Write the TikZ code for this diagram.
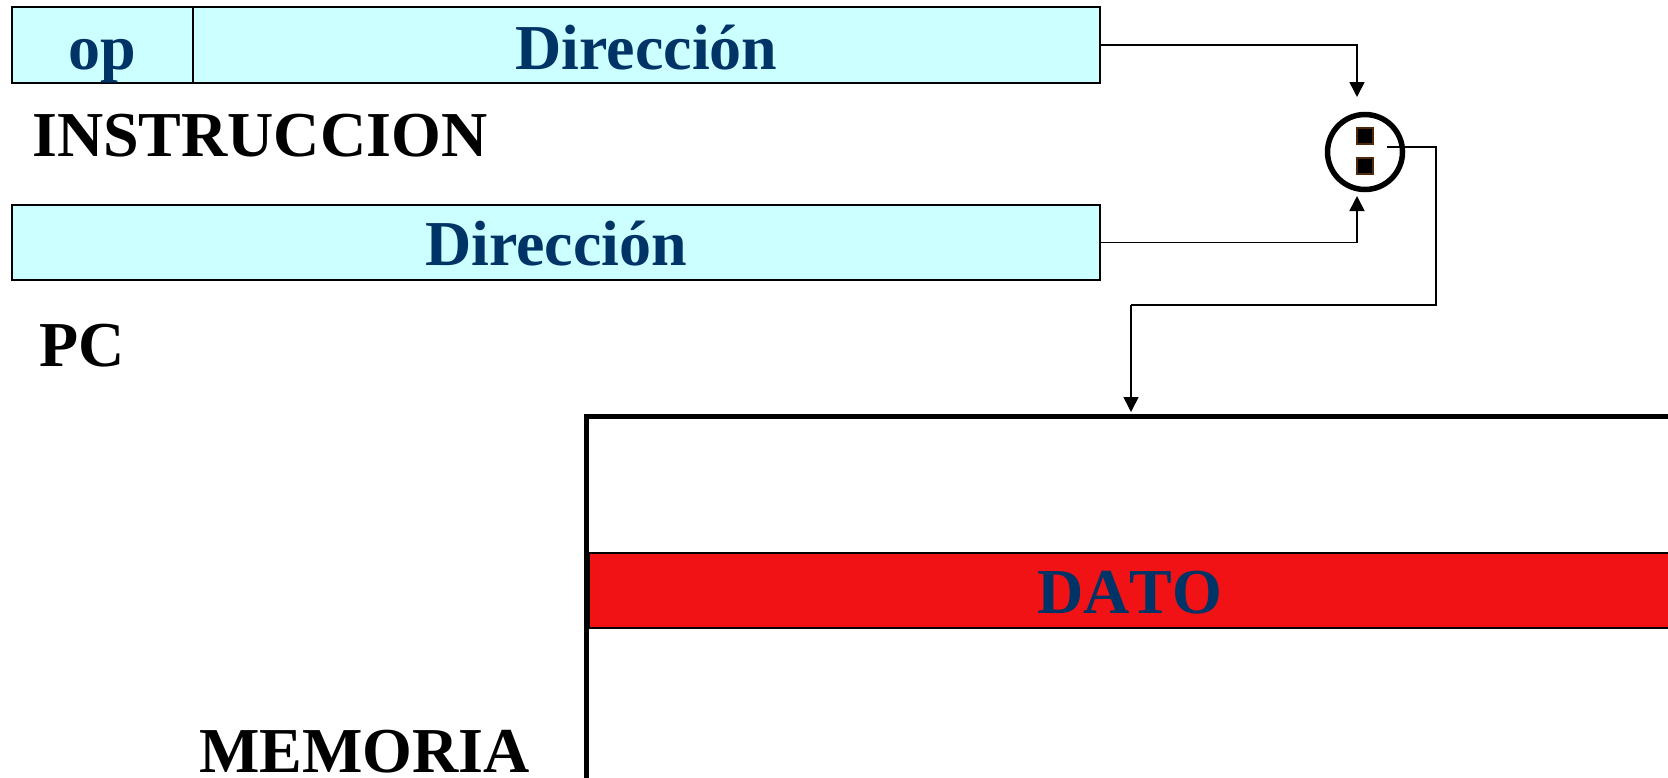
\documentclass[tikz,border=0pt]{standalone}
\usepackage{fontspec}
\setmainfont{Liberation Serif}
\usetikzlibrary{arrows.meta}
\definecolor{cyanfill}{RGB}{204,255,255}
\definecolor{navytext}{RGB}{0,51,102}
\definecolor{datared}{RGB}{240,18,20}
\definecolor{sqborder}{RGB}{80,40,10}
\tikzset{
  bigfont/.style={font=\fontsize{64}{64}\selectfont\bfseries},
  cyanbox/.style={draw=black, fill=cyanfill, line width=2pt, inner sep=0pt, bigfont, text=navytext},
  lbl/.style={inner sep=0pt, bigfont, text=black, anchor=base west},
  conn/.style={draw=black, line width=1.6pt, -{Triangle[length=15pt,width=15pt]}},
  wire/.style={draw=black, line width=1.6pt},
  dot/.style={draw=sqborder, fill=black, line width=1.2pt, minimum size=16pt, inner sep=0pt}
}
\begin{document}
\begin{tikzpicture}[x=1pt,y=-1pt]
\clip (0,0) rectangle (1668,777);
% instruction
\node[cyanbox, minimum width=181pt, minimum height=76pt] (opbox) at (102.5,45) {};
\node[cyanbox, minimum width=907pt, minimum height=76pt] (dirbox) at (646.5,45) {};
\node[inner sep=0pt, bigfont, text=navytext, anchor=base] (optext) at (102.5,69) {op};
\node[inner sep=0pt, bigfont, text=navytext, anchor=base] (dirtext) at (646.5,69) {Dirección};
\node[lbl] (instr) at (32,156) {INSTRUCCION};
% PC
\node[cyanbox, minimum width=1088pt, minimum height=75pt] (pcbox) at (556,242.5) {};
\node[inner sep=0pt, bigfont, text=navytext, anchor=base] (pctext) at (556,265) {Dirección};
\node[lbl] (pc) at (39,366) {PC};
% sum circle
\node[draw=black, circle, line width=5.5pt, minimum size=75pt, inner sep=0pt] (sum) at (1365,152) {};
\node[dot] (sq1) at (1365,136) {};
\node[dot] (sq2) at (1365,166) {};
% memory
\node[draw=black, line width=5pt, minimum width=1113pt, minimum height=383.5pt, inner sep=0pt] (mem) at (1143,608.25) {};
\node[draw=black, fill=datared, line width=2pt, minimum width=1083pt, minimum height=75pt, inner sep=0pt] (dato) at (1130.5,590.5) {};
\node[inner sep=0pt, bigfont, text=navytext, anchor=base] (datotext) at (1130,613) {\addfontfeatures{Kerning=Off}DATO};
\node[lbl] (memlbl) at (199,772) {MEMORIA};
% connectors
\coordinate (t1) at (1357,97);
\coordinate (t2) at (1357,196);
\coordinate (o1) at (1387,147);
\coordinate (o2) at (1436,305);
\coordinate (t3) at (1131,412);
\draw[conn] (dirbox.east) -| (t1);
\draw[conn] (pcbox.east) -| (t2);
\draw[wire] (o1) -| (o2) -- (1131,305);
\draw[conn] (1131,305) -- (t3);
\end{tikzpicture}
\end{document}
